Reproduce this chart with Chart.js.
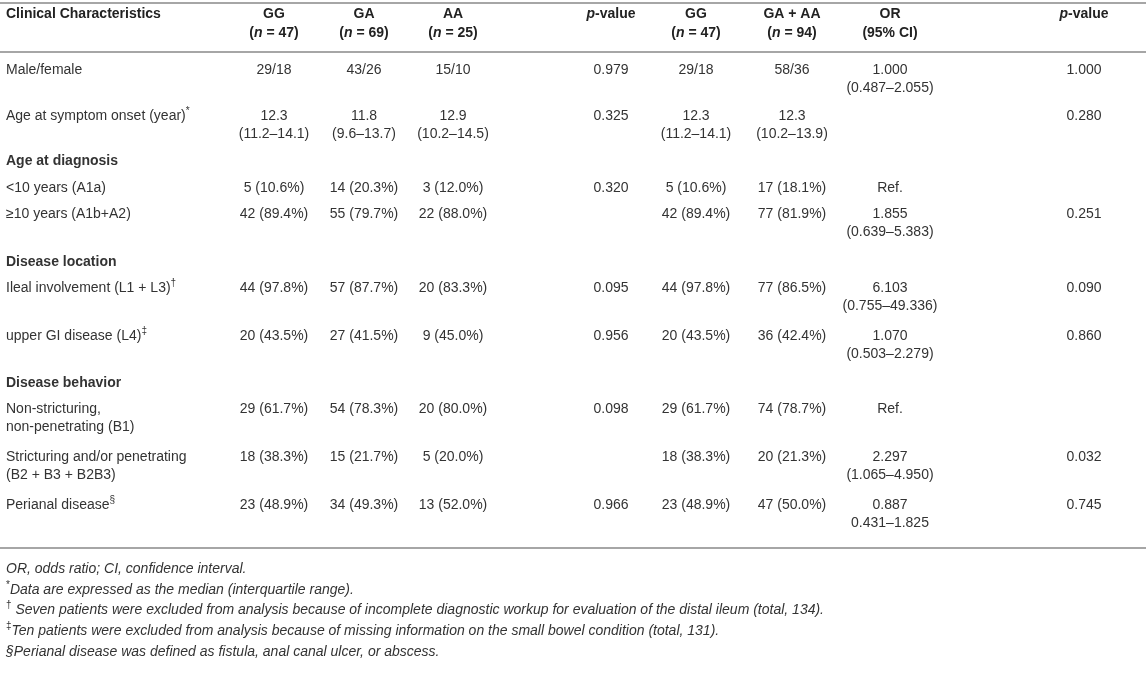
<!DOCTYPE html>
<html><head><meta charset="utf-8">
<script src="https://cdn.jsdelivr.net/npm/chart.js@4.4.0/dist/chart.umd.min.js"></script>
<style>html,body{margin:0;padding:0;background:#fff;}canvas{display:block;}</style>
</head><body>
<canvas id="c" width="1146" height="686"></canvas>
<script>
// ================= DATA =================
const headerTop = ["Clinical Characteristics", "GG", "GA", "AA", "<i>p</i>-value", "GG", "GA + AA", "OR", "<i>p</i>-value"];
const headerSub = ["", "(<i>n</i> = 47)", "(<i>n</i> = 69)", "(<i>n</i> = 25)", "", "(<i>n</i> = 47)", "(<i>n</i> = 94)", "(95% CI)", ""];

const characteristics = [
  "Male/female",
  "Age at symptom onset (year)<sup>*</sup>",
  "Age at diagnosis",
  "<10 years (A1a)",
  "≥10 years (A1b+A2)",
  "Disease location",
  "Ileal involvement (L1 + L3)<sup>†</sup>",
  "upper GI disease (L4)<sup>‡</sup>",
  "Disease behavior",
  "Non-stricturing,\nnon-penetrating (B1)",
  "Stricturing and/or penetrating\n(B2 + B3 + B2B3)",
  "Perianal disease<sup>§</sup>"
];
const sectionRows = [false, false, true, false, false, true, false, false, true, false, false, false];

const ggGenotype = ["29/18", "12.3\n(11.2–14.1)", "", "5 (10.6%)", "42 (89.4%)", "", "44 (97.8%)", "20 (43.5%)", "", "29 (61.7%)", "18 (38.3%)", "23 (48.9%)"];
const gaGenotype = ["43/26", "11.8\n(9.6–13.7)", "", "14 (20.3%)", "55 (79.7%)", "", "57 (87.7%)", "27 (41.5%)", "", "54 (78.3%)", "15 (21.7%)", "34 (49.3%)"];
const aaGenotype = ["15/10", "12.9\n(10.2–14.5)", "", "3 (12.0%)", "22 (88.0%)", "", "20 (83.3%)", "9 (45.0%)", "", "20 (80.0%)", "5 (20.0%)", "13 (52.0%)"];
const pValueGenotype = ["0.979", "0.325", "", "0.320", "", "", "0.095", "0.956", "", "0.098", "", "0.966"];
const ggDominant = ["29/18", "12.3\n(11.2–14.1)", "", "5 (10.6%)", "42 (89.4%)", "", "44 (97.8%)", "20 (43.5%)", "", "29 (61.7%)", "18 (38.3%)", "23 (48.9%)"];
const gaAaDominant = ["58/36", "12.3\n(10.2–13.9)", "", "17 (18.1%)", "77 (81.9%)", "", "77 (86.5%)", "36 (42.4%)", "", "74 (78.7%)", "20 (21.3%)", "47 (50.0%)"];
const oddsRatio = ["1.000\n(0.487–2.055)", "", "", "Ref.", "1.855\n(0.639–5.383)", "", "6.103\n(0.755–49.336)", "1.070\n(0.503–2.279)", "", "Ref.", "2.297\n(1.065–4.950)", "0.887\n0.431–1.825"];
const pValueDominant = ["1.000", "0.280", "", "", "0.251", "", "0.090", "0.860", "", "", "0.032", "0.745"];

const footnotes = [
  "<i>OR, odds ratio; CI, confidence interval.</i>",
  "<sup>*</sup><i>Data are expressed as the median (interquartile range).</i>",
  "<sup>†</sup><i> Seven patients were excluded from analysis because of incomplete diagnostic workup for evaluation of the distal ileum (total, 134).</i>",
  "<sup>‡</sup><i>Ten patients were excluded from analysis because of missing information on the small bowel condition (total, 131).</i>",
  "<i>§Perianal disease was defined as fistula, anal canal ulcer, or abscess.</i>"
];

// ================= LAYOUT (table units = px of the 1146x686 page) =================
const PAGE_W = 1146, PAGE_H = 686;
const COL_X = [6, 274, 364, 453, 611, 696, 792, 890, 1084];
const HEADER_Y = [14, 33];
const ROW_Y = [70, 116, 161, 188, 214, 262, 288, 336, 383, 409, 457, 505];
const LINE_STEP = 18;
const RULE_Y = [3, 52, 548];
const NOTE_X = 6;
const NOTE_Y = [569, 590, 610, 631, 652];
const FONT_FAMILY = '"Liberation Sans", Arial, Helvetica, sans-serif';
const FONT_SIZE = 14;
const TEXT_COLOR = '#333333';
const HEAD_COLOR = '#222222';
const RULE_COLOR = '#a6a6a6';

// ================= BUILD DATASETS =================
const bodyColumns = [characteristics, ggGenotype, gaGenotype, aaGenotype, pValueGenotype, ggDominant, gaAaDominant, oddsRatio, pValueDominant];
const datasets = [];
// header
datasets.push({
  label: 'header',
  data: headerTop.map((t, c) => ({ x: COL_X[c], y: HEADER_Y[0], text: t, align: c === 0 ? 'left' : 'center' }))
    .concat(headerSub.map((t, c) => ({ x: COL_X[c], y: HEADER_Y[1], text: t, align: 'center' })).filter(p => p.text)),
  bold: true, color: HEAD_COLOR
});
bodyColumns.forEach((col, c) => {
  datasets.push({
    label: 'col' + c,
    data: col.map((t, r) => ({ x: COL_X[c], y: ROW_Y[r], text: t, align: c === 0 ? 'left' : 'center', bold: c === 0 && sectionRows[r] }))
      .filter(p => p.text !== ''),
    bold: false, color: TEXT_COLOR
  });
});
datasets.push({
  label: 'notes',
  data: footnotes.map((t, i) => ({ x: NOTE_X, y: NOTE_Y[i], text: t, align: 'left' })),
  bold: false, color: TEXT_COLOR
});
datasets.forEach(d => { d.pointRadius = 0; d.pointHoverRadius = 0; d.showLine = false; });

// ================= RICH TEXT =================
function parseRich(s) {
  const segs = [];
  let italic = false, sup = false;
  const re = /<\/?(i|sup)>/g;
  let last = 0, m;
  while ((m = re.exec(s)) !== null) {
    if (m.index > last) segs.push({ t: s.slice(last, m.index), italic, sup });
    const closing = m[0][1] === '/';
    if (m[1] === 'i') italic = !closing; else sup = !closing;
    last = re.lastIndex;
  }
  if (last < s.length) segs.push({ t: s.slice(last), italic, sup });
  return segs;
}
function fontFor(seg, bold) {
  const size = seg.sup ? Math.round(FONT_SIZE * 0.7) : FONT_SIZE;
  return (seg.italic ? 'italic ' : '') + (bold ? 'bold ' : '') + size + 'px ' + FONT_FAMILY;
}
function drawRich(ctx, s, x, y, align, bold, color) {
  const segs = parseRich(s);
  let total = 0;
  segs.forEach(sg => { ctx.font = fontFor(sg, bold); sg.w = ctx.measureText(sg.t).width; total += sg.w; });
  let cx = align === 'center' ? x - total / 2 : x;
  ctx.fillStyle = color;
  ctx.textBaseline = 'middle';
  ctx.textAlign = 'left';
  segs.forEach(sg => {
    ctx.font = fontFor(sg, bold);
    ctx.fillText(sg.t, cx, sg.sup ? y - FONT_SIZE * 0.35 : y);
    cx += sg.w;
  });
}

const tablePlugin = {
  id: 'tablePlugin',
  beforeDatasetsDraw(chart) {
    const ctx = chart.ctx, xs = chart.scales.x, ys = chart.scales.y;
    ctx.save();
    ctx.strokeStyle = RULE_COLOR;
    ctx.lineWidth = 2;
    RULE_Y.forEach(v => {
      const py = Math.round(ys.getPixelForValue(v));
      ctx.beginPath();
      ctx.moveTo(xs.getPixelForValue(0), py);
      ctx.lineTo(xs.getPixelForValue(PAGE_W), py);
      ctx.stroke();
    });
    ctx.restore();
  },
  afterDatasetsDraw(chart) {
    const ctx = chart.ctx, ys = chart.scales.y;
    ctx.save();
    chart.data.datasets.forEach((ds, i) => {
      const meta = chart.getDatasetMeta(i);
      meta.data.forEach((el, j) => {
        const raw = ds.data[j];
        raw.text.split('\n').forEach((line, k) => {
          const py = k === 0 ? el.y : ys.getPixelForValue(raw.y + k * LINE_STEP);
          drawRich(ctx, line, el.x, py, raw.align, ds.bold || raw.bold, ds.color);
        });
      });
    });
    ctx.restore();
  }
};

new Chart(document.getElementById('c'), {
  type: 'scatter',
  data: { datasets },
  options: {
    responsive: false,
    animation: false,
    events: [],
    layout: { padding: 0 },
    plugins: { legend: { display: false }, tooltip: { enabled: false } },
    scales: {
      x: { type: 'linear', min: 0, max: PAGE_W, display: false },
      y: { type: 'linear', min: 0, max: PAGE_H, reverse: true, display: false }
    }
  },
  plugins: [tablePlugin]
});
</script>
</body></html>
